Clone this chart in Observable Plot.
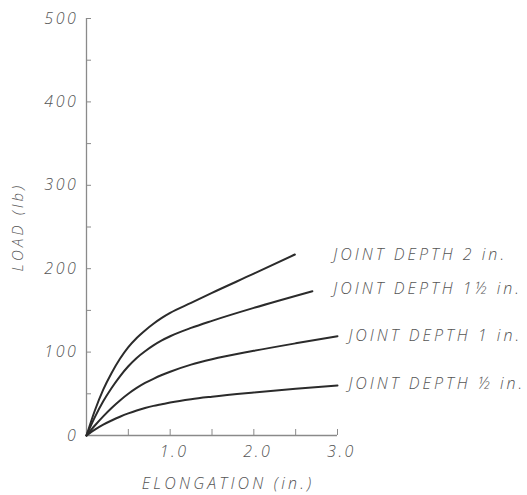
<!DOCTYPE html>
<html><head><meta charset="utf-8">
<script src="https://cdn.jsdelivr.net/npm/d3@7"></script>
<script src="https://cdn.jsdelivr.net/npm/@observablehq/plot@0.6"></script>
<style>
body{margin:0;background:#fff;}
#chart svg{display:block;}
#chart svg text{letter-spacing:2.6px;}
#chart svg g.series-labels text{letter-spacing:3px;}
#chart svg g.axis-title text{letter-spacing:3.2px;}
</style></head><body><div id="chart"></div>
<script>
// Series names (joint depth)
const seriesNames = ["JOINT DEPTH 2 in.", "JOINT DEPTH 1½ in.", "JOINT DEPTH 1 in.", "JOINT DEPTH ½ in."];

// Elongation (in.) and load (lb) for each curve
const depth2Elong   = [0, 0.1, 0.2, 0.3, 0.4, 0.5, 0.6, 0.7, 0.8, 0.9, 1.0, 1.25, 1.5, 2.0, 2.49];
const depth2Load    = [0, 30, 55, 75, 92, 106, 117, 126, 134, 141, 147, 159, 171, 194, 217];
const depth15Elong  = [0, 0.1, 0.2, 0.3, 0.4, 0.5, 0.6, 0.7, 0.8, 0.9, 1.0, 1.25, 1.5, 2.0, 2.7];
const depth15Load   = [0, 22, 41, 57, 71, 83, 93, 101, 108, 114, 119, 129, 137.5, 153, 173];
const depth1Elong   = [0, 0.1, 0.2, 0.3, 0.4, 0.5, 0.6, 0.7, 0.8, 0.9, 1.0, 1.25, 1.5, 2.0, 2.5, 3.0];
const depth1Load    = [0, 12, 23, 33, 42, 50, 57, 63, 68, 72.5, 76.5, 85, 91.5, 101.5, 110.5, 119];
const depthHalfElong= [0, 0.1, 0.2, 0.3, 0.4, 0.5, 0.6, 0.7, 0.8, 0.9, 1.0, 1.25, 1.5, 2.0, 2.5, 3.0];
const depthHalfLoad = [0, 7, 13, 18, 22.5, 26.5, 30, 33, 35.5, 37.5, 39.5, 43.5, 46.5, 51.5, 56, 60];

// Label anchor points (data coordinates)
const labelElong = [2.95, 2.95, 3.13, 3.13];
const labelLoad  = [217, 176, 120, 62];

// Axis ticks
const yLabelTicks = [0, 100, 200, 300, 400, 500];
const yTickMarks  = [50, 100, 150, 200, 250, 300, 350, 400, 450, 500];
const xLabelTicks = [1, 2, 3];
const xTickMarks  = [0.5, 1, 1.5, 2, 2.5, 3];

const xs = [depth2Elong, depth15Elong, depth1Elong, depthHalfElong];
const ys = [depth2Load, depth15Load, depth1Load, depthHalfLoad];
const rows = [];
seriesNames.forEach((name, i) => xs[i].forEach((x, j) => rows.push({series: name, elong: x, load: ys[i][j]})));
const labels = seriesNames.map((name, i) => ({name, elong: labelElong[i], load: labelLoad[i]}));

const font = "'Open Sans', 'DejaVu Sans', sans-serif";
const txtColor = "#555";
const axisColor = "#8a8a8a";
const blank = () => "";

const chart = Plot.plot({
  width: 527,
  height: 495,
  marginLeft: 86,
  marginRight: 190,
  marginTop: 18,
  marginBottom: 60,
  style: {fontFamily: font, background: "#fff"},
  x: {domain: [0, 3]},
  y: {domain: [0, 500]},
  marks: [
    Plot.ruleX([0], {y1: 0, y2: 500, stroke: axisColor, strokeWidth: 1.3}),
    Plot.ruleY([0], {x1: 0, x2: 3, stroke: axisColor, strokeWidth: 1.3}),
    Plot.axisY(yTickMarks, {tickSize: -5, stroke: axisColor, tickFormat: blank, label: null}),
    Plot.axisX(xTickMarks, {tickSize: -6, stroke: axisColor, tickFormat: blank, label: null}),
    Plot.axisY(yLabelTicks, {tickSize: 0, tickPadding: 8, tickFormat: d => String(d), label: null,
      fontSize: 16, fontStyle: "italic", fontWeight: 300, fill: txtColor}),
    Plot.axisX(xLabelTicks, {tickSize: 0, tickPadding: 10, tickFormat: d => d.toFixed(1), label: null, dx: 4,
      fontSize: 16, fontStyle: "italic", fontWeight: 300, fill: txtColor}),
    Plot.line(rows, {x: "elong", y: "load", z: "series", stroke: "#2b2b2b", strokeWidth: 2, curve: "monotone-x"}),
    Plot.text(labels, {x: "elong", y: "load", text: "name", textAnchor: "start", className: "series-labels",
      fontSize: 16, fontStyle: "italic", fontWeight: 300, fill: txtColor}),
    Plot.text(["LOAD (lb)"], {x: 0, y: 250, dx: -68, rotate: -90, className: "axis-title",
      fontSize: 15, fontStyle: "italic", fontWeight: 300, fill: txtColor}),
    Plot.text(["ELONGATION (in.)"], {x: 1.5, y: 0, dx: 16, dy: 48, className: "axis-title",
      fontSize: 16, fontStyle: "italic", fontWeight: 300, fill: txtColor})
  ]
});
document.getElementById("chart").appendChild(chart);
</script></body></html>
